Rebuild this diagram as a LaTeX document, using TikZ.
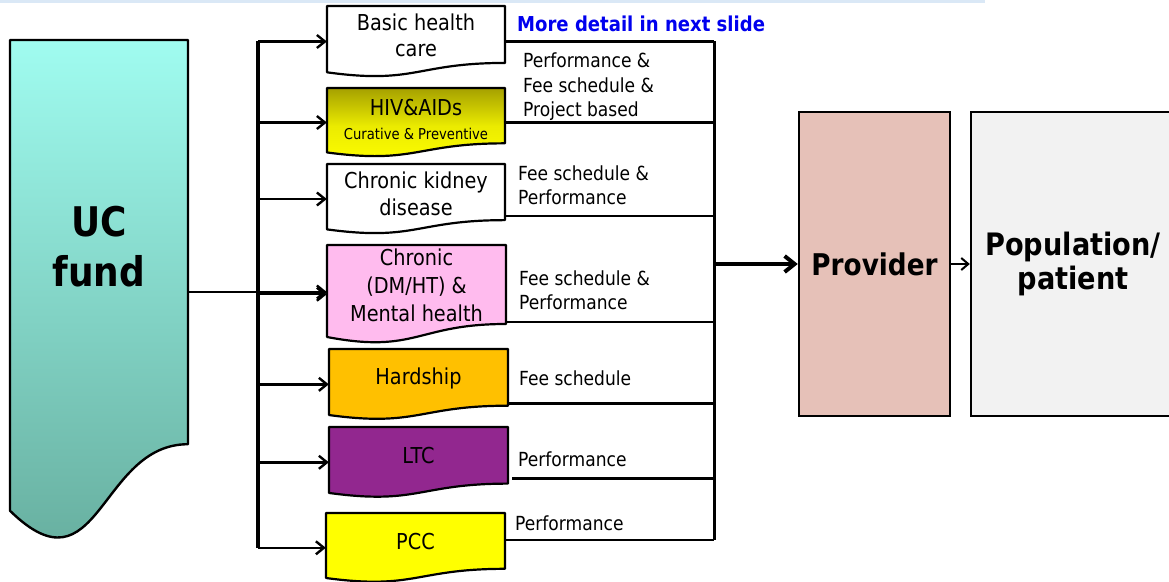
\documentclass[tikz,border=0pt]{standalone}
\usepackage{fontspec}
\setmainfont{DejaVu Sans}[FakeStretch=0.88]
\usetikzlibrary{arrows.meta,calc}
\definecolor{ucTop}{RGB}{160,252,240}
\definecolor{ucBot}{RGB}{98,168,152}
\definecolor{hivTop}{RGB}{165,160,0}
\definecolor{hivMid}{RGB}{235,235,0}
\definecolor{hivBot}{RGB}{255,255,0}
\definecolor{pinkC}{RGB}{255,187,238}
\definecolor{orangeC}{RGB}{255,192,0}
\definecolor{purpleC}{RGB}{146,39,143}
\definecolor{yellowC}{RGB}{255,255,0}
\definecolor{provC}{RGB}{230,193,184}
\definecolor{popC}{RGB}{242,242,242}
\definecolor{blueT}{RGB}{0,0,238}
\definecolor{topLine}{RGB}{218,232,246}
\newcommand\fs[2]{\fontsize{#1}{#2}\selectfont}
% name, x, y, w, h, style, font, text, text-y fraction
\newcommand\docbox[9]{%
  \draw[docline,#6] (#2,#3) -- ({#2+#4},#3) -- ({#2+#4},{#3+0.802*#5})
    .. controls ({#2+0.5*#4},{#3+0.802*#5}) and ({#2+0.5*#4},{#3+1.107*#5}) .. (#2,{#3+0.934*#5}) -- cycle;
  \node[frame, minimum width=#4bp, minimum height=#5bp] (#1) at ({#2+0.5*#4},{#3+0.5*#5}) {};
  \node[boxtext, font=#7] (#1-text) at ({#2+0.5*#4},{#3+#9*#5}) {#8};
}
\tikzset{
  docline/.style={draw=black, line width=2.2bp, line join=round},
  frame/.style={draw=none, inner sep=0, rectangle},
  boxtext/.style={align=center, inner sep=0},
  branch/.style={line width=2.4bp, -{Straight Barb[length=8bp,width=13bp]}},
  trunk/.style={line width=3.4bp},
  exitline/.style={line width=2.4bp, line join=miter},
  bigbox/.style={draw=black, line width=2.4bp, font=\bfseries\fs{30}{35}, align=center, inner sep=0},
  bigarrow/.style={line width=4bp, -{Straight Barb[length=10bp,width=16bp]}},
  smallarrow/.style={line width=2bp, -{Straight Barb[length=7bp,width=12bp]}},
  lab/.style={anchor=west, inner sep=0, align=left, font=\fs{19.5}{24.5}},
}
\begin{document}
\begin{tikzpicture}[x=1bp,y=-1bp]
\useasboundingbox (0,0) rectangle (1169,582);
\fill[topLine] (0,0) rectangle (985,3);

\docbox{uc}{10}{40}{178}{504}{top color=ucTop,bottom color=ucBot,line width=2.4bp}{\bfseries\fs{41}{50}}{UC\\fund}{0.41}
\docbox{basic}{327}{6}{178}{71}{fill=white}{\fs{22}{26}}{Basic health\\care}{0.41}
\docbox{hiv}{327}{88}{178}{69}{top color=hivTop,bottom color=hivBot,middle color=hivMid}{\fs{22}{24}}{HIV\&AIDs\\{\fs{15}{18}Curative \& Preventive}}{0.46}
\docbox{ckd}{327}{164}{178}{70}{fill=white}{\fs{22}{27}}{Chronic kidney\\disease}{0.42}
\docbox{dm}{327}{245}{179}{98.5}{fill=pinkC}{\fs{22}{28}}{Chronic\\(DM/HT) \&\\Mental health}{0.41}
\docbox{hard}{329}{349}{179}{70.7}{fill=orangeC}{\fs{22}{26}}{Hardship}{0.41}
\docbox{ltc}{329}{427}{179}{70.6}{fill=purpleC}{\fs{22}{26}}{LTC}{0.41}
\docbox{pcc}{326}{513}{179}{69.6}{fill=yellowC}{\fs{22}{26}}{PCC}{0.41}

\node[bigbox, fill=provC, minimum width=151bp, minimum height=304bp] (prov) at (874.5,264) {Provider};
\node[bigbox, fill=popC, minimum width=204bp, minimum height=304bp, font=\bfseries\fs{31}{35}] (pop) at (1073,264) {Population/\\patient};

% left trunk and branches
\coordinate (lt) at (258,0);
\draw[trunk] (lt |- basic.west) -- (lt |- pcc.west);
\foreach \n in {basic,hiv,ckd,dm,hard,ltc,pcc}
  \draw[branch] (lt |- \n.west) -- (\n.west);
\draw[branch] (uc.east) -- (uc.east -| dm.west);

% right collector
\coordinate (rt) at (714,0);
\coordinate (ckdx) at ([yshift=-17bp]ckd.east);
\coordinate (dmx) at ([yshift=-28bp]dm.east);
\coordinate (hardx) at ([yshift=-19bp]hard.east);
\coordinate (ltcx) at ([xshift=4bp,yshift=-16bp]ltc.east);
\coordinate (pccx) at ([yshift=8bp]pcc.east);
\draw[exitline, line width=3bp] (basic.east -| rt) -- (pccx -| rt);
\draw[exitline] (basic.east) -- (basic.east -| rt);
\draw[exitline] (hiv.east) -- (hiv.east -| rt);
\foreach \c in {ckdx,dmx,hardx,ltcx,pccx}
  \draw[exitline] (\c) -- (\c -| rt);

\draw[bigarrow] (rt |- prov.west) -- (prov.west);
\draw[smallarrow] (prov.east) -- (pop.west);

% labels
\node[lab, text=blueT, font=\bfseries\fs{20.6}{24}] (more) at (517,24) {More detail in next slide};
\node[lab] (l1) at (523,87) {Performance \&\\Fee schedule \&\\Project based};
\node[lab] (l2) at (518,185) {Fee schedule \&\\Performance};
\node[lab] (l3) at (519,290) {Fee schedule \&\\Performance};
\node[lab] (l4) at (519,378) {Fee schedule};
\node[lab] (l5) at (518,459) {Performance};
\node[lab] (l6) at (515,523) {Performance};
\end{tikzpicture}
\end{document}
